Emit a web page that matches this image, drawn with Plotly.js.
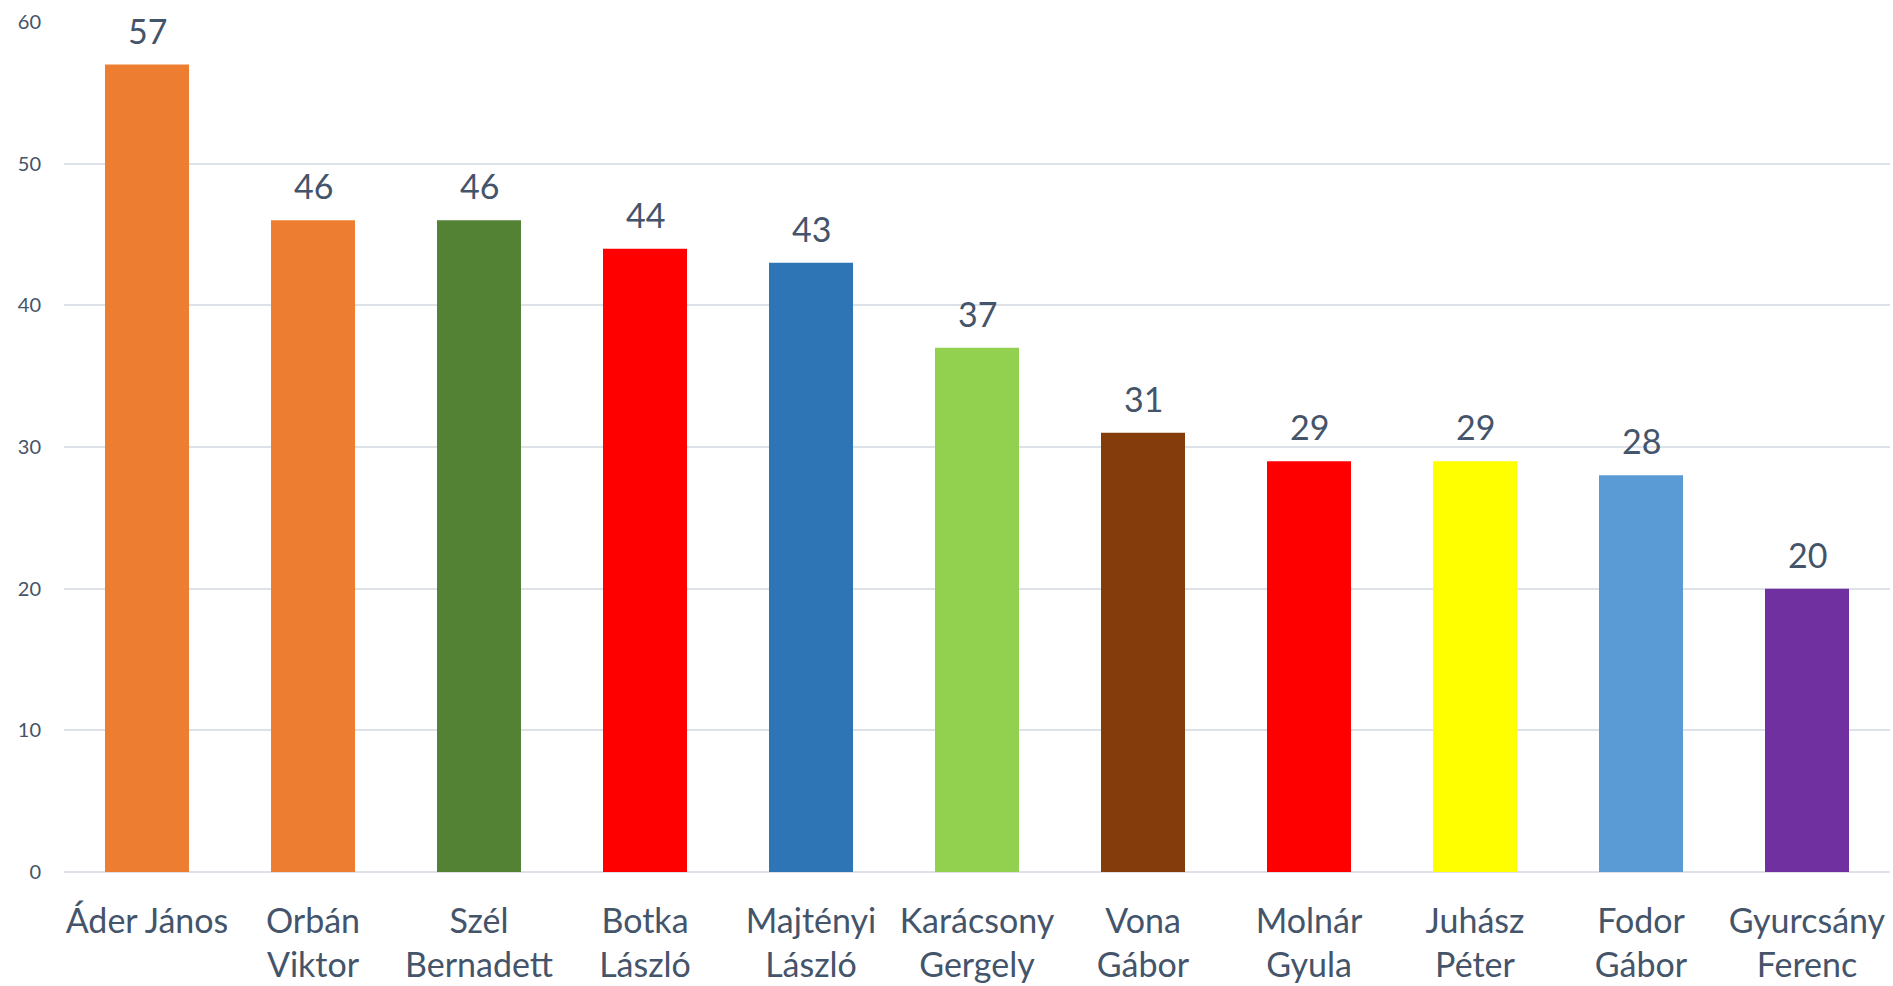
<!DOCTYPE html>
<html>
<head>
<meta charset="utf-8">
<script src="https://cdn.plot.ly/plotly-3.0.1.min.js"></script>
<style>
  html, body { margin: 0; padding: 0; background: #fff; }
  #chart { width: 1893px; height: 986px; }
</style>
</head>
<body>
<div id="chart"></div>
<script>
var names = ['Áder János', 'Orbán<br>Viktor', 'Szél<br>Bernadett', 'Botka<br>László', 'Majtényi<br>László',
             'Karácsony<br>Gergely', 'Vona<br>Gábor', 'Molnár<br>Gyula', 'Juhász<br>Péter', 'Fodor<br>Gábor',
             'Gyurcsány<br>Ferenc'];
var scores = [57, 46, 46, 44, 43, 37, 31, 29, 29, 28, 20];
var colors = ['#ED7D31', '#ED7D31', '#548235', '#FF0000', '#2E75B6', '#92D050',
              '#843C0C', '#FF0000', '#FFFF00', '#5B9BD5', '#7030A0'];

var textColor = '#44546A';

var trace = {
  x: names,
  y: scores,
  type: 'bar',
  marker: {color: colors},
  hoverinfo: 'x+y'
};

// value labels above the bars
var labels = names.map(function (n, i) {
  return {
    x: n, y: scores[i], xref: 'x', yref: 'y',
    text: String(scores[i]),
    showarrow: false, yanchor: 'bottom', yshift: 12,
    font: {size: 34, color: textColor}
  };
});

var layout = {
  width: 1893,
  height: 986,
  margin: {l: 64, r: 3, t: 22, b: 114},
  paper_bgcolor: '#ffffff',
  plot_bgcolor: '#ffffff',
  font: {family: 'Lato, "Open Sans", sans-serif', color: textColor},
  bargap: 0.494,
  showlegend: false,
  xaxis: {
    tickfont: {size: 34, color: textColor},
    showgrid: false,
    showline: false,
    ticks: '',
    ticklabelstandoff: 26
  },
  yaxis: {
    range: [0, 60],
    dtick: 10,
    tickfont: {size: 20, color: textColor},
    gridcolor: '#DDE1E8',
    gridwidth: 2,
    zeroline: true,
    zerolinecolor: '#DDE1E8',
    zerolinewidth: 2,
    showline: false,
    ticks: '',
    ticklabelstandoff: 22
  },
  annotations: labels
};

Plotly.newPlot('chart', [trace], layout, {displayModeBar: false});
</script>
</body>
</html>
